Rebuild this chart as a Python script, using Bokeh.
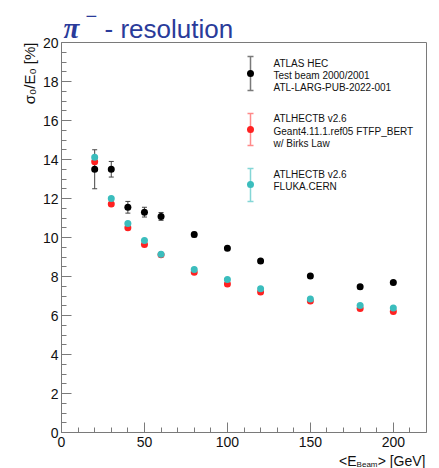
from bokeh.plotting import figure
from bokeh.models import (Range1d, SingleIntervalTicker, FixedTicker, Label, Whisker,
                          ColumnDataSource, TeeHead, LinearAxis)
from bokeh.embed import file_html
from bokeh.resources import INLINE

# ---------------- data ----------------
energy = [20, 30, 40, 50, 60, 80, 100, 120, 150, 180, 200]
data_res = [13.5, 13.5, 11.55, 11.3, 11.08, 10.15, 9.45, 8.79, 8.02, 7.47, 7.69]
data_err = [1.0, 0.4, 0.3, 0.25, 0.2, 0.12, 0.1, 0.1, 0.1, 0.1, 0.1]
geant_res = [13.88, 11.72, 10.5, 9.64, 9.12, 8.22, 7.62, 7.2, 6.74, 6.36, 6.2]
fluka_res = [14.12, 12.0, 10.72, 9.85, 9.14, 8.36, 7.84, 7.37, 6.84, 6.51, 6.39]

legend_data = ["ATLAS HEC", "Test beam 2000/2001", "ATL-LARG-PUB-2022-001"]
legend_geant = ["ATLHECTB v2.6", "Geant4.11.1.ref05 FTFP_BERT", "w/ Birks Law"]
legend_fluka = ["ATLHECTB v2.6", "FLUKA.CERN"]

title_main = "- resolution"
y_title = "σ₀/E₀ [%]"
x_title = ["<E", "Beam", "> [GeV]"]

x_ticks_interval = 50
y_ticks_interval = 2

# ---------------- layout (page pixels) ----------------
W, H = 439, 468
XMIN, XMAX, YMIN, YMAX = 0, 220, 0, 20
FL, FR, FT, FB = 61, 426, 42, 432          # where the axes box sits
SX = (XMAX - XMIN) / (FR - FL)
SY = (YMAX - YMIN) / (FB - FT)


def X(px):
    return XMIN + (px - FL) * SX


def Y(py):
    return YMIN + (FB - py) * SY


BLUE = "#2a3b9a"
RED = "#ff2121"
CYAN = "#3bbdbd"
FONT = "Liberation Sans"
AXIS = "#7a7a7a"
TXT = "#111111"

p = figure(width=W, height=H, output_backend="svg", toolbar_location=None,
           x_range=Range1d(X(0), X(W)), y_range=Range1d(Y(H), Y(0)),
           min_border=0, x_axis_location=None, y_axis_location=None)
p.title.visible = False
p.xgrid.visible = False
p.ygrid.visible = False
p.outline_line_color = None
p.background_fill_color = "white"
p.border_fill_color = "white"

xax = LinearAxis(fixed_location=YMIN, bounds=(XMIN, XMAX),
                 ticker=SingleIntervalTicker(interval=x_ticks_interval, num_minor_ticks=5))
yax = LinearAxis(fixed_location=XMIN, bounds=(YMIN, YMAX),
                 ticker=SingleIntervalTicker(interval=y_ticks_interval, num_minor_ticks=4))
for ax in (xax, yax):
    ax.axis_line_color = AXIS
    ax.major_tick_line_color = AXIS
    ax.minor_tick_line_color = AXIS
    ax.major_tick_in = 10
    ax.major_tick_out = 0
    ax.minor_tick_in = 5
    ax.minor_tick_out = 0
    ax.major_label_text_font = FONT
    ax.major_label_text_font_size = "14px"
    ax.major_label_text_color = TXT
xax.major_label_standoff = 4
yax.major_label_standoff = 3
p.add_layout(xax, "below")
p.add_layout(yax, "left")

# box: top and right edges as tick-less axes
tax = LinearAxis(fixed_location=YMAX, bounds=(XMIN, XMAX), ticker=FixedTicker(ticks=[]))
rax = LinearAxis(fixed_location=XMAX, bounds=(YMIN, YMAX), ticker=FixedTicker(ticks=[]))
for ax in (tax, rax):
    ax.axis_line_color = AXIS
    ax.major_tick_line_color = None
    ax.minor_tick_line_color = None
    ax.major_label_text_font_size = "0px"
p.add_layout(tax, "above")
p.add_layout(rax, "right")

# ---------------- data points ----------------
src = ColumnDataSource(dict(
    x=energy, d=data_res,
    lo=[v - e for v, e in zip(data_res, data_err)],
    hi=[v + e for v, e in zip(data_res, data_err)],
    g=geant_res, f=fluka_res))

p.scatter("x", "g", source=src, size=7, color=RED, line_color=None)
p.scatter("x", "f", source=src, size=7, color=CYAN, line_color=None)
p.add_layout(Whisker(base="x", lower="lo", upper="hi", source=src,
                     line_color="#444444", line_width=1,
                     upper_head=TeeHead(size=5, line_color="#444444"),
                     lower_head=TeeHead(size=5, line_color="#444444")))
p.scatter("x", "d", source=src, size=7, color="black", line_color=None)

# ---------------- legend ----------------
LX = 250
TX = 273
entries = [
    (legend_data, "black", "#7a7a7a", 73, 56, 90, [63, 75, 87]),
    (legend_geant, RED, "#ff8a8a", 129, 113, 145, [118, 131, 143]),
    (legend_fluka, CYAN, "#84d6d6", 184, 168, 201, [174, 186]),
]
for texts, col, barcol, my, by0, by1, ty in entries:
    wsrc = ColumnDataSource(dict(x=[X(LX)], lo=[Y(by1)], hi=[Y(by0)], y=[Y(my)]))
    p.add_layout(Whisker(base="x", lower="lo", upper="hi", source=wsrc,
                         line_color=barcol, line_width=1.5,
                         upper_head=TeeHead(size=6, line_color=barcol, line_width=1.5),
                         lower_head=TeeHead(size=6, line_color=barcol, line_width=1.5)))
    p.scatter("x", "y", source=wsrc, size=7, color=col, line_color=None)
    for t, yy in zip(texts, ty):
        p.add_layout(Label(x=X(TX), y=Y(yy), text=t, text_font=FONT,
                           text_font_size="10px", text_color=TXT,
                           text_baseline="middle", text_align="left"))

# ---------------- title ----------------
p.add_layout(Label(x=X(63), y=Y(27.5), text="π", text_font="Liberation Serif",
                   text_font_style="bold italic", text_font_size="29px",
                   text_color=BLUE, text_baseline="alphabetic", text_align="left"))
p.add_layout(Label(x=X(85), y=Y(15.5), text="−", text_font=FONT,
                   text_font_size="20px", text_color=BLUE,
                   text_baseline="alphabetic", text_align="left"))
p.add_layout(Label(x=X(104), y=Y(28.5), text=title_main, text_font=FONT,
                   text_font_size="26px", text_color=BLUE,
                   text_baseline="alphabetic", text_align="left"))

# ---------------- axis titles ----------------
p.add_layout(Label(x=X(29), y=Y(42), text=y_title, text_font=FONT,
                   text_font_size="15px", text_color=TXT, angle=1.5708,
                   text_baseline="middle", text_align="right"))

p.add_layout(Label(x=X(425), y=Y(460), text=x_title[2], text_font=FONT,
                   text_font_size="14px", text_color=TXT,
                   text_baseline="middle", text_align="right"))
p.add_layout(Label(x=X(377), y=Y(464), text=x_title[1], text_font=FONT,
                   text_font_size="8px", text_color=TXT,
                   text_baseline="middle", text_align="right"))
p.add_layout(Label(x=X(356), y=Y(460), text=x_title[0], text_font=FONT,
                   text_font_size="14px", text_color=TXT,
                   text_baseline="middle", text_align="right"))

open("out.html", "w").write(file_html(p, INLINE))
